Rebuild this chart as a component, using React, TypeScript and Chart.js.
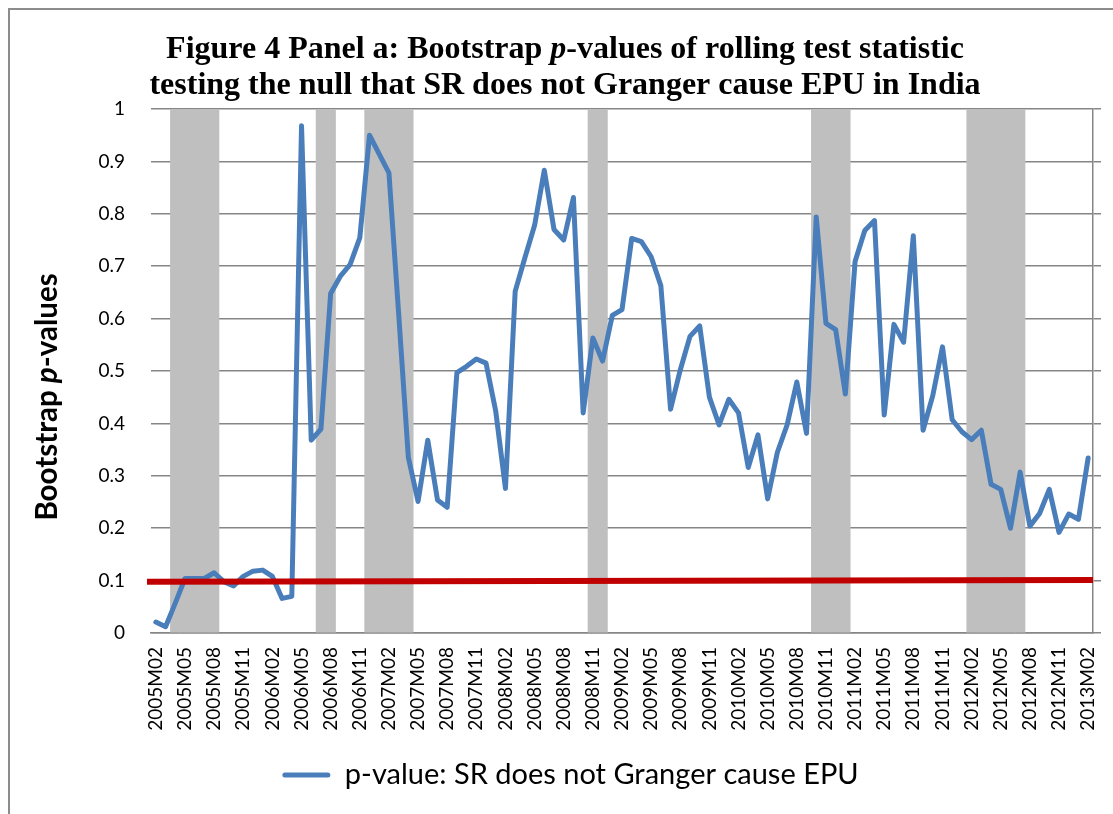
import { useEffect, useRef } from 'react';
import { Chart, registerables } from 'chart.js';

Chart.register(...registerables);

// ---------- data ----------
const FIRST_YEAR = 2005;
const FIRST_MONTH = 2;
const LABEL_EVERY = 3;

const P_VALUES: number[] = [
  0.021, 0.012, 0.057, 0.104, 0.104, 0.104, 0.115, 0.098, 0.090, 0.108,
  0.118, 0.120, 0.108, 0.066, 0.070, 0.968, 0.368, 0.389, 0.648, 0.681,
  0.703, 0.754, 0.950, 0.914, 0.878, 0.610, 0.335, 0.251, 0.368, 0.254,
  0.240, 0.497, 0.509, 0.523, 0.515, 0.423, 0.276, 0.652, 0.716, 0.778,
  0.883, 0.770, 0.750, 0.831, 0.420, 0.563, 0.519, 0.606, 0.617, 0.753,
  0.747, 0.718, 0.663, 0.427, 0.502, 0.566, 0.586, 0.450, 0.397, 0.446,
  0.420, 0.316, 0.378, 0.256, 0.345, 0.397, 0.479, 0.381, 0.794, 0.591,
  0.579, 0.456, 0.709, 0.768, 0.787, 0.416, 0.589, 0.555, 0.758, 0.387,
  0.453, 0.546, 0.407, 0.384, 0.369, 0.387, 0.284, 0.274, 0.200, 0.307,
  0.204, 0.228, 0.274, 0.192, 0.227, 0.217, 0.334,
];

const MONTHS: string[] = P_VALUES.map((_, i) => {
  const m0 = FIRST_MONTH - 1 + i;
  return `${FIRST_YEAR + Math.floor(m0 / 12)}M${String((m0 % 12) + 1).padStart(2, '0')}`;
});

const SHADED_PERIODS: [string, string][] = [
  ['2005M04', '2005M08'],
  ['2006M07', '2006M08'],
  ['2006M12', '2007M04'],
  ['2008M11', '2008M12'],
  ['2010M10', '2011M01'],
  ['2012M02', '2012M07'],
];
const SHADE_HEIGHT = 1;

const THRESHOLD_START = 0.098;
const THRESHOLD_END = 0.101;

const Y_MIN = 0;
const Y_MAX = 1;
const Y_STEP = 0.1;

const SERIES_LABEL = 'p-value: SR does not Granger cause EPU';
const TITLE_LINES = [
  [
    { t: 'Figure 4 Panel a: Bootstrap ', i: false },
    { t: 'p', i: true },
    { t: '-values of rolling test statistic', i: false },
  ],
  [{ t: 'testing the null that SR does not Granger cause EPU in India', i: false }],
];
const Y_TITLE = [
  { t: 'Bootstrap ', i: false },
  { t: 'p', i: true },
  { t: '-values', i: false },
];

// ---------- styles ----------
const BLUE = '#4A7EBB';
const RED = '#C00000';
const SHADE = '#BFBFBF';
const GRID = '#868686';
const SANS = 'Lato';
const SERIF = '"Liberation Serif"';

const SHADE_VALUES = MONTHS.map((_, i) =>
  SHADED_PERIODS.some(([a, b]) => i >= MONTHS.indexOf(a) && i <= MONTHS.indexOf(b)) ? SHADE_HEIGHT : null
);

function drawRich(
  ctx: CanvasRenderingContext2D,
  segs: { t: string; i: boolean }[],
  base: string,
  cx: number,
  cy: number,
  baseline: CanvasTextBaseline
) {
  let total = 0;
  const widths = segs.map((s) => {
    ctx.font = (s.i ? 'italic ' : '') + base;
    const w = ctx.measureText(s.t).width;
    total += w;
    return w;
  });
  let x = cx - total / 2;
  ctx.textAlign = 'left';
  ctx.textBaseline = baseline;
  segs.forEach((s, k) => {
    ctx.font = (s.i ? 'italic ' : '') + base;
    ctx.fillText(s.t, x, cy);
    x += widths[k];
  });
}

const overlayPlugin = {
  id: 'overlay',
  afterDatasetsDraw(chart: any) {
    const { ctx, chartArea, scales } = chart;
    const y = scales.y;
    ctx.save();
    ctx.strokeStyle = RED;
    ctx.lineWidth = 6;
    ctx.beginPath();
    ctx.moveTo(chartArea.left - 4, y.getPixelForValue(THRESHOLD_START));
    ctx.lineTo(chartArea.right, y.getPixelForValue(THRESHOLD_END));
    ctx.stroke();
    ctx.restore();
  },
  afterDraw(chart: any) {
    const { ctx } = chart;
    ctx.save();
    ctx.fillStyle = '#000';
    drawRich(ctx, TITLE_LINES[0], `bold 32px ${SERIF}`, 565, 58, 'alphabetic');
    drawRich(ctx, TITLE_LINES[1], `bold 32px ${SERIF}`, 565, 94, 'alphabetic');
    ctx.translate(47, 397);
    ctx.rotate(-Math.PI / 2);
    drawRich(ctx, Y_TITLE, `bold 29.5px ${SANS}`, 0, 0, 'middle');
    ctx.restore();
  },
};

export default function App() {
  const ref = useRef<HTMLCanvasElement | null>(null);

  useEffect(() => {
    if (!ref.current) return;
    const defaultGen = (Chart.defaults.plugins.legend.labels as any).generateLabels;
    const chart = new Chart(ref.current, {
      type: 'line',
      data: {
        labels: MONTHS,
        datasets: [
          {
            type: 'line',
            label: SERIES_LABEL,
            data: P_VALUES,
            borderColor: BLUE,
            backgroundColor: BLUE,
            borderWidth: 5,
            pointRadius: 0,
            tension: 0,
            fill: false,
            borderJoinStyle: 'round',
            borderCapStyle: 'round',
            order: 0,
            yAxisID: 'y',
          } as any,
          {
            type: 'bar',
            label: 'shade',
            data: SHADE_VALUES,
            backgroundColor: SHADE,
            borderWidth: 0,
            barPercentage: 1,
            categoryPercentage: 1,
            order: 1,
            yAxisID: 'y',
          } as any,
        ],
      },
      options: {
        responsive: false,
        animation: false,
        devicePixelRatio: 1,
        layout: { padding: { left: 28, right: 0, top: 109, bottom: 14.5 } },
        plugins: {
          title: { display: false },
          tooltip: { enabled: false },
          legend: {
            display: true,
            position: 'bottom',
            labels: {
              color: '#000',
              font: { family: SANS, size: 29 },
              boxWidth: 48,
              boxHeight: 5,
              padding: 15.5,
              generateLabels: (c: any) =>
                defaultGen(c)
                  .filter((l: any) => l.datasetIndex === 0)
                  .map((l: any) => ({ ...l, lineWidth: 0, fillStyle: BLUE, borderRadius: 2.5 })),
            },
          },
        },
        scales: {
          x: {
            type: 'category',
            offset: true,
            grid: {
              display: true,
              drawOnChartArea: false,
              drawTicks: true,
              tickLength: 14,
              tickColor: 'rgba(0,0,0,0)',
            },
            border: { display: true, color: GRID, width: 1.5 },
            ticks: {
              autoSkip: false,
              maxRotation: 90,
              minRotation: 90,
              padding: 0,
              color: '#000',
              font: { family: SANS, size: 19 },
              callback: (_v: any, idx: number) => (idx % LABEL_EVERY === 0 ? MONTHS[idx] : ''),
            },
            afterFit: (s: any) => {
              s.height = 112;
            },
          },
          y: {
            position: 'left',
            min: Y_MIN,
            max: Y_MAX,
            grid: { color: GRID, lineWidth: 1.5, drawTicks: false },
            border: { display: false },
            ticks: {
              stepSize: Y_STEP,
              padding: 26,
              color: '#000',
              font: { family: SANS, size: 19 },
              callback: (v: any) => Number(v).toFixed(1).replace(/\.0$/, ''),
            },
            afterFit: (s: any) => {
              s.width = 123;
            },
          },
          y2: {
            position: 'right',
            min: Y_MIN,
            max: Y_MAX,
            grid: { drawOnChartArea: false, drawTicks: true, tickLength: 8, color: GRID, lineWidth: 1.5 },
            border: { display: true, color: GRID, width: 1.5 },
            ticks: { stepSize: Y_STEP, display: false },
            afterFit: (s: any) => {
              s.width = 20;
            },
          },
        },
      },
      plugins: [overlayPlugin],
    });
    return () => chart.destroy();
  }, []);

  return (
    <>
      <div
        style={{
          position: 'fixed',
          left: 8,
          top: 8,
          width: 1200,
          height: 900,
          borderTop: '2px solid #8c8c8c',
          borderLeft: '2px solid #8c8c8c',
          background: '#fff',
        }}
      />
      <canvas
        ref={ref}
        width={1113}
        height={814}
        style={{ position: 'fixed', left: 0, top: 0, width: 1113, height: 814 }}
      />
    </>
  );
}
